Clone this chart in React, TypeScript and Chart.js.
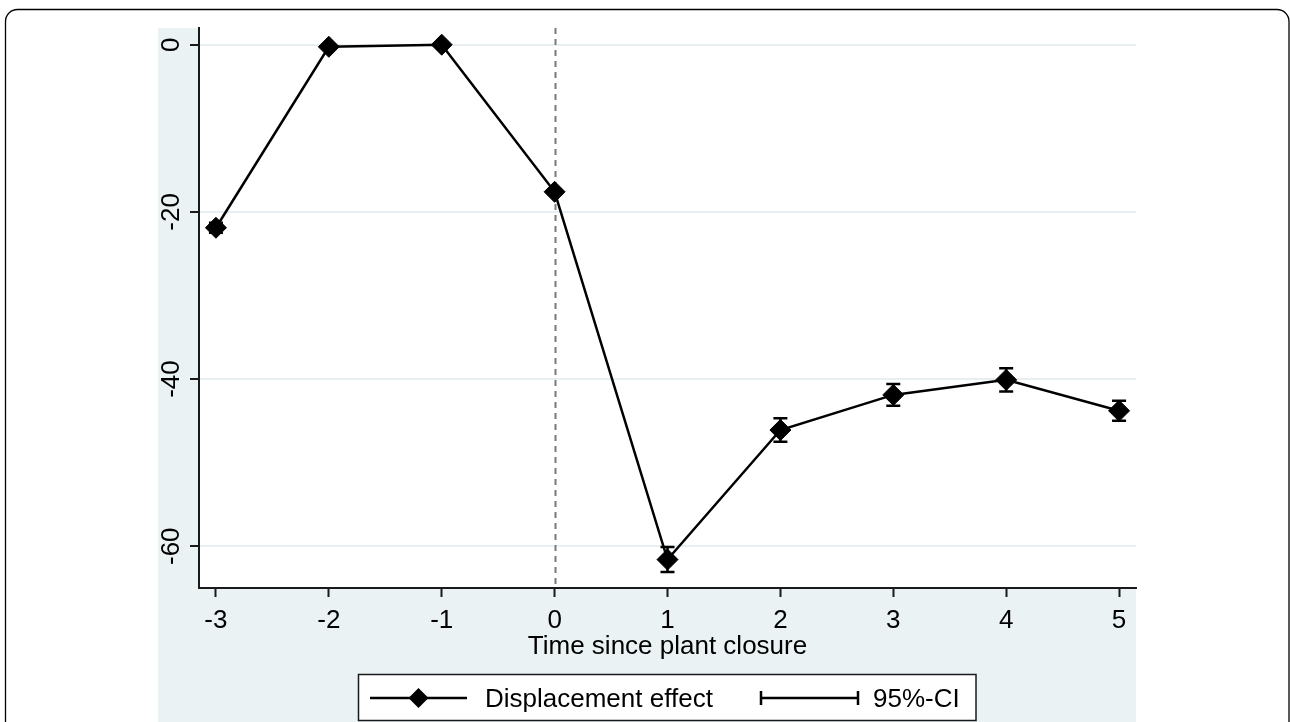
import React, { useEffect, useRef } from 'react';
import { Chart, registerables } from 'chart.js';

Chart.register(...registerables);

const years = [-3, -2, -1, 0, 1, 2, 3, 4, 5];
const effect = [-21.9, -0.25, 0, -17.6, -61.6, -46.1, -41.9, -40.1, -43.8];
const ciLower = [-22.5, -0.4, -0.15, -17.9, -63.1, -47.5, -43.2, -41.5, -45.0];
const ciUpper = [-21.3, -0.1, 0.15, -17.3, -60.1, -44.7, -40.6, -38.7, -42.6];
const yTicks = [0, -20, -40, -60];
const xTicks = [-3, -2, -1, 0, 1, 2, 3, 4, 5];
const xTitle = 'Time since plant closure';
const legendLabels = ['Displacement effect', '95%-CI'];
const refLineX = 0;

const W = 1290;
const H = 722;
const BG = '#EAF2F3';
const GRID = '#E7EFF2';
const AXIS = '#1a1a1a';
const FONT = '26px "Liberation Sans", Arial, sans-serif';

function diamond(ctx: CanvasRenderingContext2D, x: number, y: number, r: number) {
  ctx.beginPath();
  ctx.moveTo(x, y - r);
  ctx.lineTo(x + r, y);
  ctx.lineTo(x, y + r);
  ctx.lineTo(x - r, y);
  ctx.closePath();
  ctx.fill();
}

const decor = {
  id: 'decor',
  beforeDraw(chart: any) {
    const { ctx, chartArea: ca } = chart;
    ctx.save();
    ctx.fillStyle = '#fff';
    ctx.fillRect(0, 0, W, H);
    // outer rounded frame
    ctx.strokeStyle = '#000';
    ctx.lineWidth = 1.3;
    const fx = 5.5, fy = 9.5, fr = 12, fx2 = 1289, fy2 = H + 20;
    ctx.beginPath();
    ctx.moveTo(fx, fy2);
    ctx.lineTo(fx, fy + fr);
    ctx.arcTo(fx, fy, fx + fr, fy, fr);
    ctx.lineTo(fx2 - fr, fy);
    ctx.arcTo(fx2, fy, fx2, fy + fr, fr);
    ctx.lineTo(fx2, fy2);
    ctx.stroke();
    // graph region background
    ctx.fillStyle = BG;
    ctx.fillRect(ca.left - 41, ca.top, ca.right - (ca.left - 41), H - ca.top);
    ctx.fillStyle = '#fff';
    ctx.fillRect(ca.left, ca.top, ca.right - ca.left, ca.bottom - ca.top);
    ctx.restore();
  },
  beforeDatasetsDraw(chart: any) {
    const { ctx, chartArea: ca, scales } = chart;
    const xs = scales.x, ys = scales.y;
    ctx.save();
    // reference line
    const px = Math.round(xs.getPixelForValue(refLineX)) + 0.5;
    ctx.strokeStyle = '#7a7a7a';
    ctx.lineWidth = 2;
    ctx.setLineDash([6, 5]);
    ctx.beginPath();
    ctx.moveTo(px, ca.top);
    ctx.lineTo(px, ca.bottom);
    ctx.stroke();
    ctx.setLineDash([]);
    // confidence intervals
    ctx.strokeStyle = '#000';
    ctx.lineWidth = 2.5;
    years.forEach((yr, i) => {
      const x = xs.getPixelForValue(yr);
      const y1 = ys.getPixelForValue(ciLower[i]);
      const y2 = ys.getPixelForValue(ciUpper[i]);
      ctx.beginPath();
      ctx.moveTo(x, y1);
      ctx.lineTo(x, y2);
      ctx.moveTo(x - 7, y1);
      ctx.lineTo(x + 7, y1);
      ctx.moveTo(x - 7, y2);
      ctx.lineTo(x + 7, y2);
      ctx.stroke();
    });
    ctx.restore();
  },
  afterDraw(chart: any) {
    const { ctx, chartArea: ca, scales } = chart;
    const xs = scales.x, ys = scales.y;
    ctx.save();
    ctx.fillStyle = '#000';
    ctx.font = FONT;
    // x tick labels
    ctx.textAlign = 'center';
    ctx.textBaseline = 'alphabetic';
    xTicks.forEach((v) => {
      ctx.fillText(String(v), xs.getPixelForValue(v), ca.bottom + 40);
    });
    // x title
    ctx.fillText(xTitle, (ca.left + ca.right) / 2, ca.bottom + 66);
    // y tick labels, rotated
    yTicks.forEach((v) => {
      const y = ys.getPixelForValue(v);
      ctx.save();
      ctx.translate(ca.left - 20, y);
      ctx.rotate(-Math.PI / 2);
      ctx.textAlign = 'center';
      ctx.textBaseline = 'alphabetic';
      ctx.fillText(String(v), 0, 0);
      ctx.restore();
    });
    // legend
    const lx = 358.5, ly = 674.5, lw = 617.5, lh = 46;
    ctx.fillStyle = '#fff';
    ctx.fillRect(lx, ly, lw, lh);
    ctx.strokeStyle = AXIS;
    ctx.lineWidth = 1.5;
    ctx.strokeRect(lx, ly, lw, lh);
    const my = 698;
    ctx.strokeStyle = '#000';
    ctx.lineWidth = 2.5;
    ctx.beginPath();
    ctx.moveTo(370, my);
    ctx.lineTo(467, my);
    ctx.stroke();
    ctx.fillStyle = '#000';
    diamond(ctx, 418.5, my, 10);
    ctx.textAlign = 'left';
    ctx.fillText(legendLabels[0], 485, 707);
    ctx.lineWidth = 2.5;
    ctx.beginPath();
    ctx.moveTo(761, my);
    ctx.lineTo(858, my);
    ctx.moveTo(761, my - 7);
    ctx.lineTo(761, my + 7);
    ctx.moveTo(858, my - 7);
    ctx.lineTo(858, my + 7);
    ctx.stroke();
    ctx.fillText(legendLabels[1], 873, 707);
    ctx.restore();
  },
};

export default function App() {
  const ref = useRef<HTMLCanvasElement | null>(null);
  useEffect(() => {
    if (!ref.current) return;
    const chart = new Chart(ref.current, {
      type: 'line',
      data: {
        datasets: [
          {
            label: legendLabels[0],
            data: years.map((x, i) => ({ x, y: effect[i] })),
            borderColor: '#000',
            borderWidth: 2.5,
            pointStyle: 'rectRot',
            pointRadius: 10.5,
            pointBackgroundColor: '#000',
            pointBorderColor: '#000',
            pointBorderWidth: 1,
            tension: 0,
          },
        ],
      },
      options: {
        responsive: false,
        animation: false,
        devicePixelRatio: 1,
        layout: { padding: { left: 190, right: 154, top: 28, bottom: 125 } },
        plugins: { legend: { display: false }, tooltip: { enabled: false } },
        scales: {
          x: {
            type: 'linear',
            min: -3.15,
            max: 5.15,
            afterBuildTicks: (s: any) => {
              s.ticks = xTicks.map((v) => ({ value: v }));
            },
            ticks: { display: false },
            grid: {
              drawOnChartArea: false,
              color: 'rgba(0,0,0,0)',
              tickColor: AXIS,
              tickLength: 9,
              tickWidth: 2,
            },
            border: { color: AXIS, width: 2 },
          },
          y: {
            type: 'linear',
            min: -65,
            max: 2,
            afterBuildTicks: (s: any) => {
              s.ticks = yTicks.map((v) => ({ value: v }));
            },
            ticks: { display: false },
            grid: {
              color: GRID,
              lineWidth: 2,
              tickColor: AXIS,
              tickLength: 9,
              tickWidth: 2,
            },
            border: { color: AXIS, width: 2 },
          },
        },
      },
      plugins: [decor],
    });
    return () => chart.destroy();
  }, []);
  return (
    <div style={{ position: 'absolute', left: 0, top: 0, width: W, height: H }}>
      <canvas ref={ref} width={W} height={H} style={{ display: 'block' }} />
    </div>
  );
}
